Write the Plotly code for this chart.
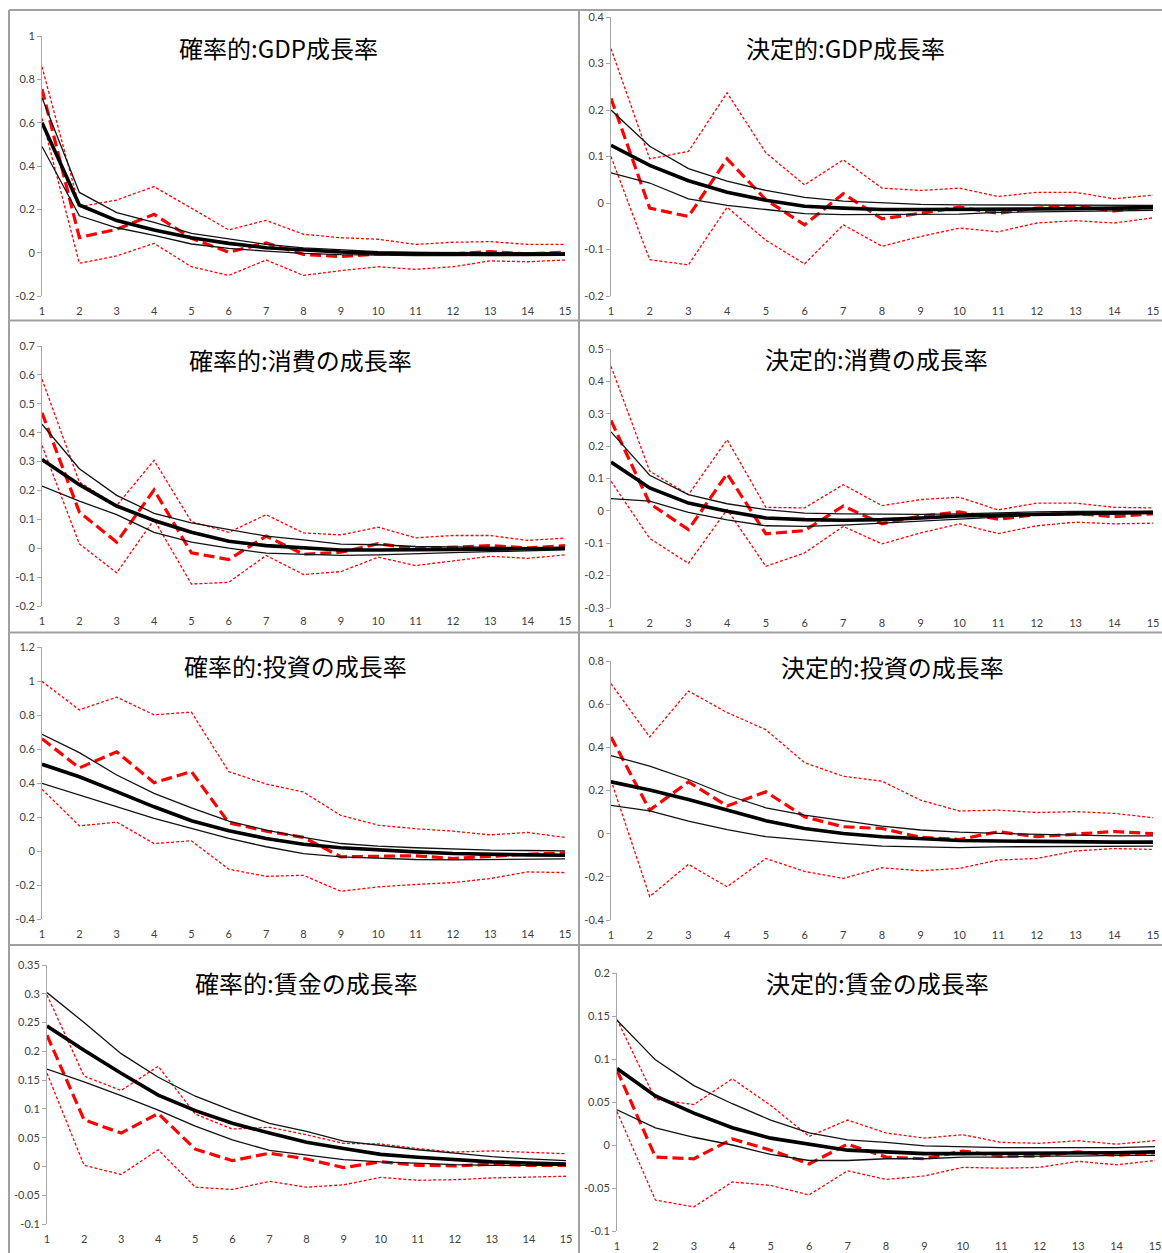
import plotly.graph_objects as go

W, H = 1162, 1253
periods = list(range(1, 16))

titles = ["確率的:GDP成長率", "決定的:GDP成長率",
          "確率的:消費の成長率", "決定的:消費の成長率",
          "確率的:投資の成長率", "決定的:投資の成長率",
          "確率的:賃金の成長率", "決定的:賃金の成長率"]

# Panel 1: 確率的 GDP
p1_blk_mid = [0.60, 0.22, 0.148, 0.105, 0.069, 0.043, 0.023, 0.012, 0.003, -0.003, -0.006, -0.008, -0.008, -0.008, -0.007]
p1_blk_hi = [0.715, 0.278, 0.185, 0.14, 0.089, 0.062, 0.038, 0.022, 0.012, 0.005, 0.001, 0.0, 0.0, 0.0, 0.0]
p1_blk_lo = [0.49, 0.17, 0.115, 0.08, 0.04, 0.02, 0.007, -0.003, -0.009, -0.012, -0.013, -0.013, -0.013, -0.012, -0.012]
p1_red_mid = [0.755, 0.07, 0.108, 0.177, 0.066, 0.002, 0.045, -0.008, -0.018, -0.006, -0.008, -0.006, 0.005, -0.006, 0.002]
p1_red_hi = [0.858, 0.212, 0.243, 0.305, 0.205, 0.105, 0.149, 0.085, 0.069, 0.062, 0.038, 0.048, 0.051, 0.038, 0.038]
p1_red_lo = [0.62, -0.049, -0.015, 0.043, -0.065, -0.105, -0.034, -0.105, -0.083, -0.065, -0.077, -0.065, -0.038, -0.042, -0.034]

# Panel 2: 決定的 GDP
p2_blk_mid = [0.124, 0.081, 0.048, 0.023, 0.006, -0.007, -0.011, -0.014, -0.014, -0.014, -0.014, -0.013, -0.012, -0.011, -0.010]
p2_blk_hi = [0.2, 0.122, 0.074, 0.047, 0.027, 0.012, 0.004, 0.0, -0.003, -0.004, -0.004, -0.004, -0.005, -0.005, -0.005]
p2_blk_lo = [0.065, 0.043, 0.009, -0.005, -0.014, -0.023, -0.025, -0.025, -0.025, -0.024, -0.02, -0.019, -0.018, -0.017, -0.016]
p2_red_mid = [0.225, -0.011, -0.029, 0.095, 0.007, -0.047, 0.02, -0.034, -0.022, -0.009, -0.022, -0.011, -0.007, -0.017, -0.007]
p2_red_hi = [0.332, 0.095, 0.111, 0.237, 0.108, 0.039, 0.093, 0.032, 0.027, 0.032, 0.014, 0.023, 0.023, 0.009, 0.017]
p2_red_lo = [0.10, -0.122, -0.133, -0.009, -0.08, -0.131, -0.047, -0.093, -0.072, -0.054, -0.062, -0.043, -0.038, -0.043, -0.032]

# Panel 3: 確率的 消費
p3_blk_mid = [0.307, 0.22, 0.146, 0.096, 0.055, 0.024, 0.009, 0.0, -0.006, -0.006, -0.006, -0.005, -0.003, -0.002, 0.0]
p3_blk_hi = [0.429, 0.275, 0.183, 0.121, 0.088, 0.064, 0.042, 0.029, 0.014, 0.012, 0.006, 0.005, 0.003, 0.002, 0.002]
p3_blk_lo = [0.215, 0.163, 0.116, 0.055, 0.021, 0.0, -0.017, -0.021, -0.025, -0.023, -0.018, -0.015, -0.012, -0.009, -0.006]
p3_red_mid = [0.469, 0.125, 0.021, 0.202, -0.016, -0.039, 0.042, -0.021, -0.014, 0.016, -0.002, 0.003, 0.009, 0.001, 0.009]
p3_red_hi = [0.585, 0.229, 0.148, 0.304, 0.092, 0.055, 0.116, 0.053, 0.046, 0.073, 0.036, 0.044, 0.044, 0.027, 0.035]
p3_red_lo = [0.356, 0.015, -0.085, 0.099, -0.124, -0.118, -0.025, -0.091, -0.081, -0.031, -0.06, -0.043, -0.028, -0.035, -0.023]

# Panel 4: 決定的 消費
p4_blk_mid = [0.151, 0.071, 0.024, -0.001, -0.022, -0.027, -0.029, -0.027, -0.022, -0.016, -0.013, -0.011, -0.009, -0.007, -0.005]
p4_blk_hi = [0.244, 0.11, 0.05, 0.022, 0.004, -0.007, -0.009, -0.011, -0.011, -0.009, -0.005, -0.003, -0.002, -0.002, -0.001]
p4_blk_lo = [0.038, 0.03, -0.005, -0.028, -0.046, -0.048, -0.044, -0.038, -0.03, -0.024, -0.018, -0.013, -0.011, -0.009, -0.007]
p4_red_mid = [0.279, 0.023, -0.058, 0.115, -0.071, -0.061, 0.015, -0.04, -0.016, -0.003, -0.026, -0.011, -0.008, -0.018, -0.009]
p4_red_hi = [0.447, 0.123, 0.05, 0.22, 0.011, 0.009, 0.081, 0.016, 0.035, 0.042, 0.003, 0.024, 0.024, 0.011, 0.009]
p4_red_lo = [0.092, -0.085, -0.162, 0.004, -0.171, -0.13, -0.048, -0.102, -0.068, -0.04, -0.07, -0.046, -0.035, -0.04, -0.038]

# Panel 5: 確率的 投資
p5_blk_mid = [0.51, 0.437, 0.349, 0.26, 0.178, 0.119, 0.074, 0.04, 0.019, 0.005, -0.005, -0.015, -0.021, -0.023, -0.025]
p5_blk_hi = [0.687, 0.579, 0.447, 0.339, 0.254, 0.176, 0.123, 0.08, 0.044, 0.029, 0.019, 0.011, 0.005, 0.003, 0.001]
p5_blk_lo = [0.398, 0.329, 0.257, 0.192, 0.133, 0.074, 0.025, -0.015, -0.034, -0.042, -0.05, -0.052, -0.05, -0.05, -0.046]
p5_red_mid = [0.66, 0.489, 0.583, 0.402, 0.467, 0.166, 0.117, 0.08, -0.034, -0.03, -0.028, -0.044, -0.03, -0.019, -0.011]
p5_red_hi = [0.998, 0.83, 0.905, 0.801, 0.817, 0.467, 0.394, 0.347, 0.209, 0.152, 0.131, 0.117, 0.095, 0.109, 0.08]
p5_red_lo = [0.363, 0.148, 0.17, 0.044, 0.06, -0.107, -0.149, -0.143, -0.237, -0.211, -0.197, -0.186, -0.162, -0.123, -0.127]

# Panel 6: 決定的 投資
p6_blk_mid = [0.24, 0.202, 0.158, 0.109, 0.06, 0.024, 0.001, -0.014, -0.025, -0.032, -0.034, -0.037, -0.039, -0.039, -0.039]
p6_blk_hi = [0.362, 0.313, 0.251, 0.178, 0.12, 0.086, 0.06, 0.035, 0.017, 0.007, 0.001, -0.003, -0.007, -0.01, -0.01]
p6_blk_lo = [0.131, 0.106, 0.058, 0.019, -0.014, -0.03, -0.045, -0.058, -0.061, -0.065, -0.061, -0.061, -0.061, -0.058, -0.058]
p6_red_mid = [0.448, 0.109, 0.24, 0.128, 0.194, 0.078, 0.032, 0.024, -0.017, -0.027, 0.009, -0.014, -0.002, 0.01, 0.0]
p6_red_hi = [0.695, 0.448, 0.661, 0.561, 0.482, 0.329, 0.266, 0.243, 0.155, 0.105, 0.109, 0.098, 0.102, 0.094, 0.074]
p6_red_lo = [0.248, -0.292, -0.142, -0.246, -0.115, -0.175, -0.207, -0.158, -0.172, -0.161, -0.122, -0.115, -0.08, -0.069, -0.073]

# Panel 7: 確率的 賃金
p7_blk_mid = [0.244, 0.202, 0.162, 0.124, 0.097, 0.075, 0.058, 0.042, 0.031, 0.021, 0.016, 0.012, 0.008, 0.006, 0.004]
p7_blk_hi = [0.302, 0.25, 0.196, 0.155, 0.122, 0.097, 0.075, 0.061, 0.044, 0.036, 0.029, 0.023, 0.017, 0.013, 0.01]
p7_blk_lo = [0.169, 0.147, 0.123, 0.098, 0.07, 0.046, 0.028, 0.02, 0.012, 0.008, 0.005, 0.003, 0.002, 0.002, 0.002]
p7_red_mid = [0.228, 0.081, 0.058, 0.092, 0.03, 0.01, 0.023, 0.013, -0.002, 0.008, 0.002, 0.001, 0.004, 0.002, 0.002]
p7_red_hi = [0.298, 0.157, 0.132, 0.174, 0.091, 0.065, 0.068, 0.055, 0.04, 0.039, 0.031, 0.025, 0.027, 0.025, 0.022]
p7_red_lo = [0.162, 0.002, -0.014, 0.029, -0.036, -0.04, -0.026, -0.036, -0.032, -0.019, -0.024, -0.023, -0.02, -0.018, -0.017]

# Panel 8: 決定的 賃金
p8_blk_mid = [0.089, 0.057, 0.037, 0.02, 0.008, 0.001, -0.006, -0.008, -0.01, -0.01, -0.01, -0.01, -0.009, -0.009, -0.008]
p8_blk_hi = [0.145, 0.099, 0.069, 0.048, 0.029, 0.014, 0.006, 0.003, -0.001, -0.002, -0.003, -0.003, -0.003, -0.003, -0.002]
p8_blk_lo = [0.041, 0.02, 0.009, 0.0, -0.011, -0.018, -0.018, -0.016, -0.016, -0.014, -0.014, -0.013, -0.013, -0.012, -0.012]
p8_red_mid = [0.087, -0.014, -0.016, 0.007, -0.006, -0.022, 0.001, -0.014, -0.016, -0.007, -0.013, -0.013, -0.008, -0.012, -0.009]
p8_red_hi = [0.146, 0.053, 0.047, 0.077, 0.046, 0.01, 0.029, 0.014, 0.008, 0.012, 0.003, 0.002, 0.005, 0.001, 0.005]
p8_red_lo = [0.039, -0.064, -0.072, -0.043, -0.047, -0.058, -0.03, -0.04, -0.036, -0.026, -0.027, -0.026, -0.019, -0.023, -0.018]

# y-axis tick labels per panel
p1_yticks = ["-0.2", "0", "0.2", "0.4", "0.6", "0.8", "1"]
p2_yticks = ["-0.2", "-0.1", "0", "0.1", "0.2", "0.3", "0.4"]
p3_yticks = ["-0.2", "-0.1", "0", "0.1", "0.2", "0.3", "0.4", "0.5", "0.6", "0.7"]
p4_yticks = ["-0.3", "-0.2", "-0.1", "0", "0.1", "0.2", "0.3", "0.4", "0.5"]
p5_yticks = ["-0.4", "-0.2", "0", "0.2", "0.4", "0.6", "0.8", "1", "1.2"]
p6_yticks = ["-0.4", "-0.2", "0", "0.2", "0.4", "0.6", "0.8"]
p7_yticks = ["-0.1", "-0.05", "0", "0.05", "0.1", "0.15", "0.2", "0.25", "0.3", "0.35"]
p8_yticks = ["-0.1", "-0.05", "0", "0.05", "0.1", "0.15", "0.2"]

panels = [
    (p1_blk_mid, p1_blk_hi, p1_blk_lo, p1_red_mid, p1_red_hi, p1_red_lo, p1_yticks),
    (p2_blk_mid, p2_blk_hi, p2_blk_lo, p2_red_mid, p2_red_hi, p2_red_lo, p2_yticks),
    (p3_blk_mid, p3_blk_hi, p3_blk_lo, p3_red_mid, p3_red_hi, p3_red_lo, p3_yticks),
    (p4_blk_mid, p4_blk_hi, p4_blk_lo, p4_red_mid, p4_red_hi, p4_red_lo, p4_yticks),
    (p5_blk_mid, p5_blk_hi, p5_blk_lo, p5_red_mid, p5_red_hi, p5_red_lo, p5_yticks),
    (p6_blk_mid, p6_blk_hi, p6_blk_lo, p6_red_mid, p6_red_hi, p6_red_lo, p6_yticks),
    (p7_blk_mid, p7_blk_hi, p7_blk_lo, p7_red_mid, p7_red_hi, p7_red_lo, p7_yticks),
    (p8_blk_mid, p8_blk_hi, p8_blk_lo, p8_red_mid, p8_red_hi, p8_red_lo, p8_yticks),
]

# plot-area boxes in pixels: (left, right, top, bottom)
boxes = [
    (42, 565, 36, 296), (611, 1153, 17, 296),
    (42, 565, 346, 606), (611, 1153, 349, 608),
    (42, 565, 647, 919), (611, 1153, 661, 920),
    (47, 566, 965, 1224), (617, 1155, 973, 1231),
]
# title centres in pixels
title_pos = [(278, 47), (845, 47), (300, 359), (876, 358),
             (295, 666), (892, 667), (306, 982), (877, 982)]

def px(x):
    return x / W

def py(y):
    return 1 - y / H

AXIS_GRAY = "#a6a6a6"
ZERO_GRAY = "#bfbfbf"
TICK_FONT = dict(family="Lato, Carlito, Liberation Sans", size=11, color="#404040")

fig = go.Figure()
layout = dict(
    width=W, height=H,
    margin=dict(l=0, r=0, t=0, b=0, pad=0, autoexpand=False),
    paper_bgcolor="white", plot_bgcolor="white", showlegend=False,
)

annotations = []
for i, (bmid, bhi, blo, rmid, rhi, rlo, yt) in enumerate(panels):
    n = i + 1
    xa = "x" if n == 1 else f"x{n}"
    ya = "y" if n == 1 else f"y{n}"
    yvals = [float(t) for t in yt]
    ymin, ymax = yvals[0], yvals[-1]
    l, r, t, b = boxes[i]

    red_thin = dict(color="#ff0000", width=1.3, dash="3px,2px")
    fig.add_trace(go.Scatter(x=periods, y=rhi, mode="lines", line=red_thin, xaxis=xa, yaxis=ya))
    fig.add_trace(go.Scatter(x=periods, y=rlo, mode="lines", line=red_thin, xaxis=xa, yaxis=ya))
    fig.add_trace(go.Scatter(x=periods, y=rmid, mode="lines",
                             line=dict(color="#ff0000", width=3.2, dash="11px,5px"), xaxis=xa, yaxis=ya))
    fig.add_trace(go.Scatter(x=periods, y=bhi, mode="lines", line=dict(color="#111111", width=1.3), xaxis=xa, yaxis=ya))
    fig.add_trace(go.Scatter(x=periods, y=blo, mode="lines", line=dict(color="#111111", width=1.3), xaxis=xa, yaxis=ya))
    fig.add_trace(go.Scatter(x=periods, y=bmid, mode="lines", line=dict(color="#000000", width=3.6), xaxis=xa, yaxis=ya))

    xd = [px(l), px(r)]
    yd = [py(b), py(t)]
    layout["xaxis" if n == 1 else f"xaxis{n}"] = dict(
        domain=xd, anchor=ya, range=[1, 15], tickmode="array", tickvals=periods,
        ticktext=[str(p) for p in periods], showgrid=False, zeroline=False, showline=False,
        ticks="outside", ticklen=5, tickcolor="rgba(0,0,0,0)", tickfont=TICK_FONT,
        fixedrange=True, automargin=False,
    )
    layout["yaxis" if n == 1 else f"yaxis{n}"] = dict(
        domain=yd, anchor=xa, range=[ymin, ymax], tickmode="array", tickvals=yvals, ticktext=yt,
        showgrid=False, zeroline=False, showline=True, linecolor=AXIS_GRAY, linewidth=1,
        ticks="outside", ticklen=4, tickcolor=AXIS_GRAY, tickfont=TICK_FONT, fixedrange=True,
        automargin=False,
    )
    # horizontal category axis crossing at zero, with Excel-style tick marks every 5 periods
    zpos = yd[0] + (0 - ymin) / (ymax - ymin) * (yd[1] - yd[0])
    layout[f"xaxis{n + 8}"] = dict(
        overlaying=xa, anchor="free", position=zpos, range=[1, 15],
        tickmode="array", tickvals=[1, 6, 11], showticklabels=False,
        showgrid=False, zeroline=False, showline=True, linecolor=ZERO_GRAY, linewidth=1,
        ticks="outside", ticklen=4, tickcolor=ZERO_GRAY, layer="below traces", fixedrange=True,
        automargin=False,
    )
    tx, ty = title_pos[i]
    annotations.append(dict(
        x=px(tx), y=py(ty), xref="paper", yref="paper", text=titles[i], showarrow=False,
        xanchor="center", yanchor="middle",
        font=dict(family="Noto Sans CJK JP", size=24, color="#000000"),
    ))

BORDER = "#a0a0a0"
shapes = []
for yb in [10, 320.5, 632.5, 945]:
    shapes.append(dict(type="line", xref="paper", yref="paper", x0=px(9), x1=1, y0=py(yb), y1=py(yb),
                       line=dict(color=BORDER, width=2)))
for xb in [9, 579]:
    shapes.append(dict(type="line", xref="paper", yref="paper", x0=px(xb), x1=px(xb), y0=py(10), y1=0,
                       line=dict(color=BORDER, width=2)))

layout["annotations"] = annotations
layout["shapes"] = shapes
fig.update_layout(**layout)

fig.write_html(
    "out.html",
    config={"displayModeBar": False},
    post_script=(
        "document.body.style.margin='0';document.body.style.padding='0';"
        "document.body.style.overflow='hidden';"
    ),
)
